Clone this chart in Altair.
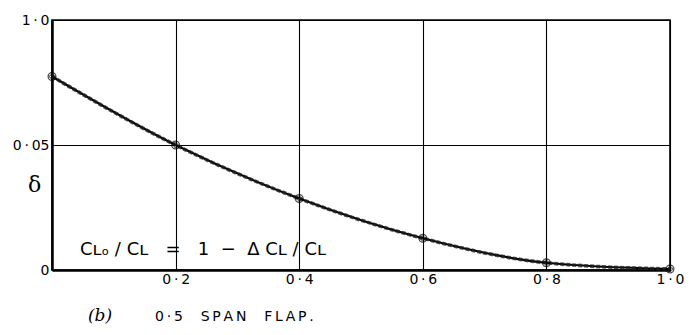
import altair as alt
import pandas as pd

# data
x_vals = [0.0, 0.2, 0.4, 0.6, 0.8, 1.0]
delta_vals = [0.0774, 0.0500, 0.0286, 0.0127, 0.0029, 0.0004]

T = "\u2009"   # thin space
N = "\u00a0"   # non-breaking space
x_ticks = [0.2, 0.4, 0.6, 0.8, 1.0]
x_tick_labels = [f"0{T}·{T}2", f"0{T}·{T}4", f"0{T}·{T}6", f"0{T}·{T}8", f"1{T}·{T}0"]
y_ticks = [0.0, 0.05, 0.1]
y_tick_labels = ["0", f"0{T}·{T}05", f"1{T}·{T}0"]

formula_text = [f"Cʟₒ{N}/{N}Cʟ{N}{N}{N}={N}{N}{N}1{N}{N}−{N}{N}Δ{N}Cʟ{N}/{N}Cʟ"]
caption_mark = ["(b)"]
caption_text = [f"0{T}·{T}5{N}{N}{N}{N}S{T}P{T}A{T}N{N}{N}{N}{N}F{T}L{T}A{T}P{T}."]

df = pd.DataFrame({"x": x_vals, "d": delta_vals})


def label_expr(vals, labels):
    parts = [f"datum.value == {v} ? '{l}'" for v, l in zip(vals, labels)]
    return " : ".join(parts) + " : ''"


W, H = 618, 250
FONT = "DejaVu Sans"

xs = alt.Scale(domain=[0, 1], nice=False, zero=False)
ys = alt.Scale(domain=[0, 0.1], nice=False)

x_enc = alt.X(
    "x:Q", scale=xs, title=None,
    axis=alt.Axis(values=x_ticks, labelExpr=label_expr(x_ticks, x_tick_labels),
                  grid=True, gridColor="black", gridWidth=1.1, gridOpacity=1,
                  ticks=False, domainColor="black", domainWidth=2.5,
                  labelFont=FONT, labelFontSize=14, labelColor="black",
                  labelPadding=2, labelFlush=False),
)
y_enc = alt.Y(
    "d:Q", scale=ys,
    axis=alt.Axis(values=y_ticks, labelExpr=label_expr(y_ticks, y_tick_labels),
                  grid=True, gridColor="black", gridWidth=1.1, gridOpacity=1,
                  ticks=False, domainColor="black", domainWidth=2.5,
                  labelFont=FONT, labelFontSize=14, labelColor="black",
                  labelPadding=3, labelFlush=False,
                  title="δ", titleAngle=0, titleFont="DejaVu Serif",
                  titleFontSize=22, titleFontWeight="normal", titleColor="black",
                  titleX=-18, titleY=176),
)

base = alt.Chart(df)

solid = base.mark_line(color="black", strokeWidth=2.2, interpolate="monotone").encode(x=x_enc, y=y_enc)
dashed = base.mark_line(color="#222", strokeWidth=3.6, strokeDash=[4, 2], opacity=0.75,
                        interpolate="monotone").encode(x="x:Q", y="d:Q")
rings = base.mark_point(shape="circle", filled=False, color="black", size=60,
                        strokeWidth=1.3).encode(x="x:Q", y="d:Q")
crosses = base.mark_point(shape="cross", filled=False, color="black", size=25,
                          strokeWidth=0.8).encode(x="x:Q", y="d:Q")

formula = alt.Chart(pd.DataFrame({"t": formula_text})).mark_text(
    align="left", baseline="middle", font=FONT, fontSize=18, color="black"
).encode(x=alt.value(28), y=alt.value(230), text="t:N")

cap1 = alt.Chart(pd.DataFrame({"t": caption_mark})).mark_text(
    align="center", baseline="middle", font="DejaVu Serif", fontStyle="italic",
    fontSize=17, color="black"
).encode(x=alt.value(48), y=alt.value(296), text="t:N")

cap2 = alt.Chart(pd.DataFrame({"t": caption_text})).mark_text(
    align="left", baseline="middle", font=FONT, fontSize=14, color="black"
).encode(x=alt.value(103), y=alt.value(297), text="t:N")

chart = alt.layer(solid, dashed, rings, crosses, formula, cap1, cap2).properties(
    width=W, height=H,
    autosize=alt.AutoSizeParams(type="none"),
    padding={"left": 44, "top": 12, "right": 18, "bottom": 57},
    background="white",
).configure_view(stroke="black", strokeWidth=1.6)

chart.save("out.html", embed_options={"renderer": "svg", "actions": False})
